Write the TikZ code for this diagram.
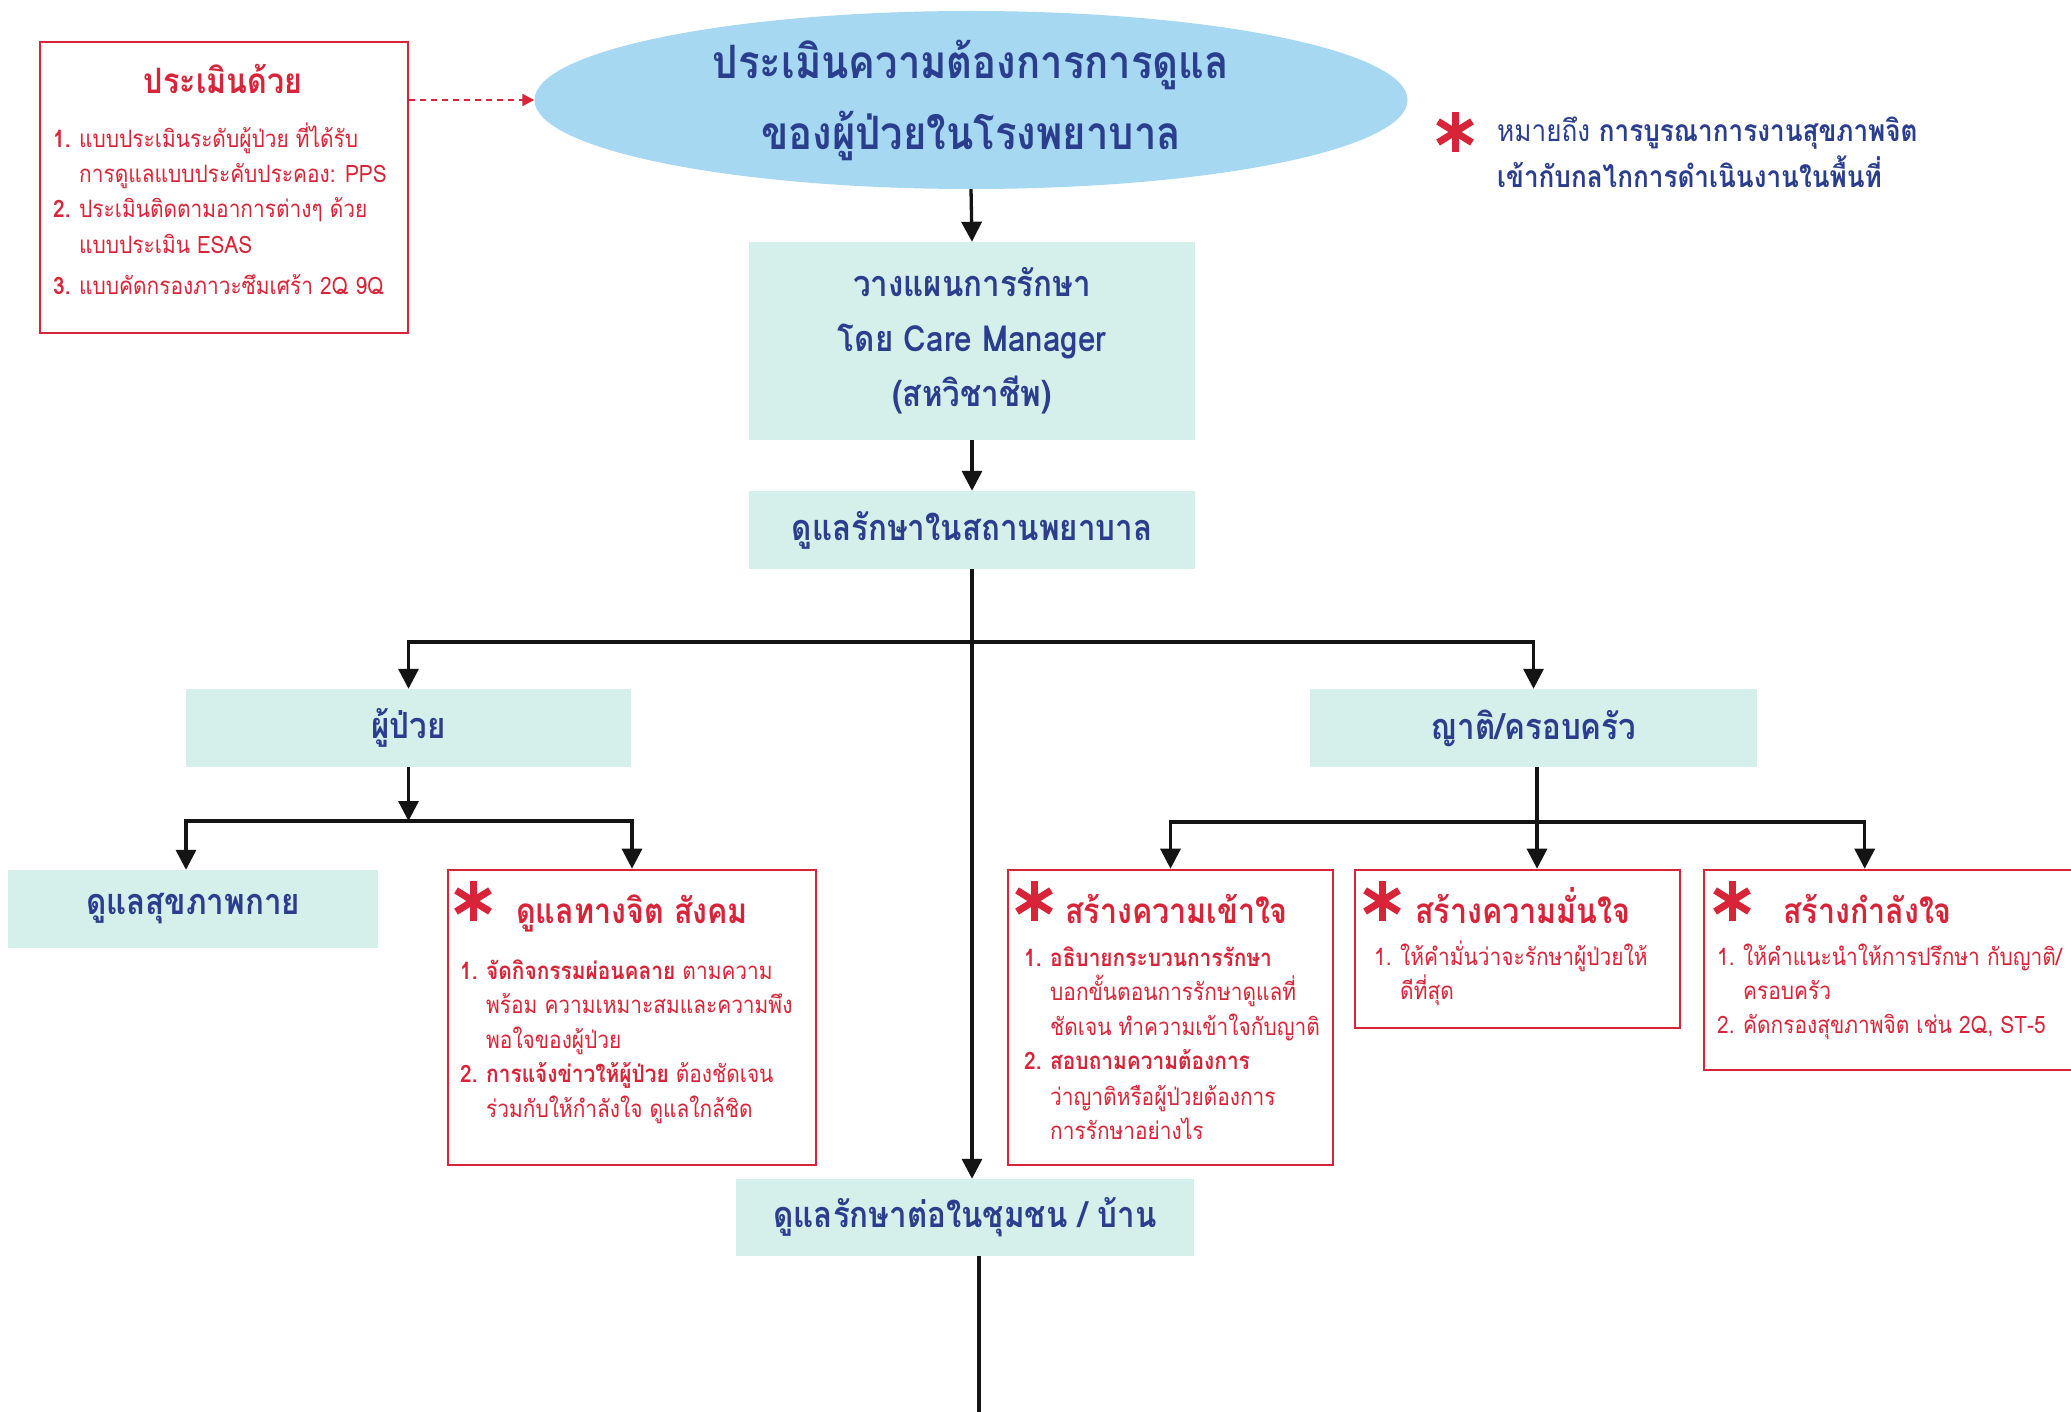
\documentclass[tikz,border=0pt]{standalone}
\usepackage{fontspec}
\setmainfont{Loma}[Script=Thai, FakeStretch=0.87]
\usetikzlibrary{arrows.meta,shapes.geometric}

\definecolor{navy}{RGB}{43,62,142}
\definecolor{alert}{RGB}{216,36,56}
\definecolor{mint}{RGB}{213,239,234}
\definecolor{sky}{RGB}{166,216,242}

\newcommand{\fs}[2]{\fontsize{#1}{#2}\selectfont}
\newcommand{\itemno}[1]{\makebox[26pt][l]{#1}}

\begin{document}
\begin{tikzpicture}[x=1pt,y=-1pt,
  mintbox/.style={rectangle, fill=mint, draw=none, inner sep=0pt, text=navy,
    font=\bfseries\fs{36}{55}, align=center},
  alertbox/.style={rectangle, draw=alert, line width=2.6pt, fill=white, inner sep=0pt},
  boxtitle/.style={anchor=base west, inner sep=0pt, text=alert, font=\bfseries\fs{35}{40}},
  bodyline/.style={anchor=base west, inner sep=0pt, text=alert, font=\fs{24}{34}},
  keyline/.style={anchor=base west, inner sep=0pt, text=navy, font=\fs{30}{40}},
  link/.style={line width=3.3pt, draw=black!92, -{Triangle[width=20pt,length=20pt]}},
  plainlink/.style={line width=3.3pt, draw=black!92},
  dashlink/.style={line width=2pt, draw=alert, dashed, dash pattern=on 6pt off 5pt,
    -{Triangle[width=12pt,length=12pt]}},
  starmark/.pic={\foreach \a in {90,32,148}
      \draw[alert, line width=7pt] (\a:20pt) -- (\a+180:20pt);}
]
\clip (0,0) rectangle (2071,1412);
\fill[white] (0,0) rectangle (2071,1412);

% ---------- top goal ----------
\node[ellipse, fill=sky, minimum width=873, minimum height=178, inner sep=0pt,
  text=navy, font=\bfseries\fs{46}{71}, align=center] (goal) at (971,100)
  {ประเมินความต้องการการดูแล\\ของผู้ป่วยในโรงพยาบาล};

% ---------- assessment tools ----------
\node[alertbox, minimum width=368, minimum height=291] (assess) at (224,187.5) {};
\node[boxtitle, anchor=base] (assesstitle) at (223,94) {ประเมินด้วย};
\node[bodyline] (as1) at (53,148) {\itemno{\textbf{1.}}แบบประเมินระดับผู้ป่วย ที่ได้รับ};
\node[bodyline] (as2) at (79,183) {การดูแลแบบประคับประคอง: PPS};
\node[bodyline] (as3) at (53,218) {\itemno{\textbf{2.}}ประเมินติดตามอาการต่างๆ ด้วย};
\node[bodyline] (as4) at (79,254) {แบบประเมิน ESAS};
\node[bodyline] (as5) at (53,295) {\itemno{\textbf{3.}}แบบคัดกรองภาวะซึมเศร้า 2Q 9Q};

% ---------- key ----------
\pic at (1455,132) {starmark};
\node[keyline] (key1) at (1497,142) {หมายถึง \textbf{การบูรณาการงานสุขภาพจิต}};
\node[keyline] (key2) at (1497,188) {\textbf{เข้ากับกลไกการดำเนินงานในพื้นที่}};

% ---------- main column ----------
\node[mintbox, minimum width=446, minimum height=198] (plan) at (972,341)
  {วางแผนการรักษา\\โดย Care Manager\\(สหวิชาชีพ)};
\node[mintbox, minimum width=446, minimum height=78] (hosp) at (972,530)
  {ดูแลรักษาในสถานพยาบาล};
\node[mintbox, minimum width=445, minimum height=78] (patient) at (408.5,728) {ผู้ป่วย};
\node[mintbox, minimum width=447, minimum height=78] (family) at (1533.5,728) {ญาติ/ครอบครัว};
\node[mintbox, minimum width=370, minimum height=78] (physical) at (193,909) {ดูแลสุขภาพกาย};
\node[mintbox, minimum width=458, minimum height=77] (community) at (965,1217.5)
  {ดูแลรักษาต่อในชุมชน / บ้าน};

% ---------- psychosocial care ----------
\node[alertbox, minimum width=368, minimum height=295] (psych) at (632,1017.5) {};
\pic at (473,901) {starmark};
\node[boxtitle] (psychtitle) at (516,923) {ดูแลทางจิต สังคม};
\node[bodyline] (ps1) at (460,979) {\itemno{\textbf{1.}}\textbf{จัดกิจกรรมผ่อนคลาย} ตามความ};
\node[bodyline] (ps2) at (486,1013) {พร้อม ความเหมาะสมและความพึง};
\node[bodyline] (ps3) at (486,1048) {พอใจของผู้ป่วย};
\node[bodyline] (ps4) at (460,1082) {\itemno{\textbf{2.}}\textbf{การแจ้งข่าวให้ผู้ป่วย} ต้องชัดเจน};
\node[bodyline] (ps5) at (486,1117) {ร่วมกับให้กำลังใจ ดูแลใกล้ชิด};

% ---------- understanding ----------
\node[alertbox, minimum width=325, minimum height=295] (understand) at (1170.5,1017.5) {};
\pic at (1034,901) {starmark};
\node[boxtitle] (untitle) at (1065,923) {สร้างความเข้าใจ};
\node[bodyline] (un1) at (1024,966) {\itemno{\textbf{1.}}\textbf{อธิบายกระบวนการรักษา}};
\node[bodyline] (un2) at (1050,1000) {บอกขั้นตอนการรักษาดูแลที่};
\node[bodyline] (un3) at (1050,1035) {ชัดเจน ทำความเข้าใจกับญาติ};
\node[bodyline] (un4) at (1024,1069) {\itemno{\textbf{2.}}\textbf{สอบถามความต้องการ}};
\node[bodyline] (un5) at (1050,1105) {ว่าญาติหรือผู้ป่วยต้องการ};
\node[bodyline] (un6) at (1050,1139) {การรักษาอย่างไร};

% ---------- confidence ----------
\node[alertbox, minimum width=325, minimum height=158] (confidence) at (1517.5,949) {};
\pic at (1382,901) {starmark};
\node[boxtitle] (cotitle) at (1415,923) {สร้างความมั่นใจ};
\node[bodyline] (co1) at (1374,965) {\itemno{1.}ให้คำมั่นว่าจะรักษาผู้ป่วยให้};
\node[bodyline] (co2) at (1400,999) {ดีที่สุด};

% ---------- encouragement ----------
\node[alertbox, minimum width=382, minimum height=200] (morale) at (1895,970) {};
\pic at (1732,901) {starmark};
\node[boxtitle] (motitle) at (1783,923) {สร้างกำลังใจ};
\node[bodyline] (mo1) at (1717,965) {\itemno{1.}ให้คำแนะนำให้การปรึกษา กับญาติ/};
\node[bodyline] (mo2) at (1743,999) {ครอบครัว};
\node[bodyline] (mo3) at (1717,1033) {\itemno{2.}คัดกรองสุขภาพจิต เช่น 2Q, ST-5};

% ---------- connectors ----------
\draw[dashlink] (assess.east |- goal.west) -- (goal.west);
\draw[link] (goal.south) -- (plan.north);
\draw[link] (plan.south) -- (hosp.north);

\coordinate (split) at (972,642);
\draw[link] (hosp.south) -- (hosp.south |- community.north);
\draw[link] (split) -| (patient.north);
\draw[link] (split) -| (family.north);

\coordinate (pjoin) at (408.5,821);
\draw[link] (patient.south) -- (pjoin);
\draw[link] (pjoin) -| ([xshift=-7pt]physical.north);
\draw[link] (pjoin) -| (psych.north);

\coordinate (fjoin) at (1537,822);
\draw[link] (family.south -| fjoin) -- (fjoin |- confidence.north);
\draw[link] (fjoin) -| (understand.north);
\draw[link] (fjoin) -| ([xshift=162pt]morale.north west);

\coordinate (tail) at (979,1412);
\draw[plainlink] (tail |- community.south) -- (tail);
\end{tikzpicture}
\end{document}
